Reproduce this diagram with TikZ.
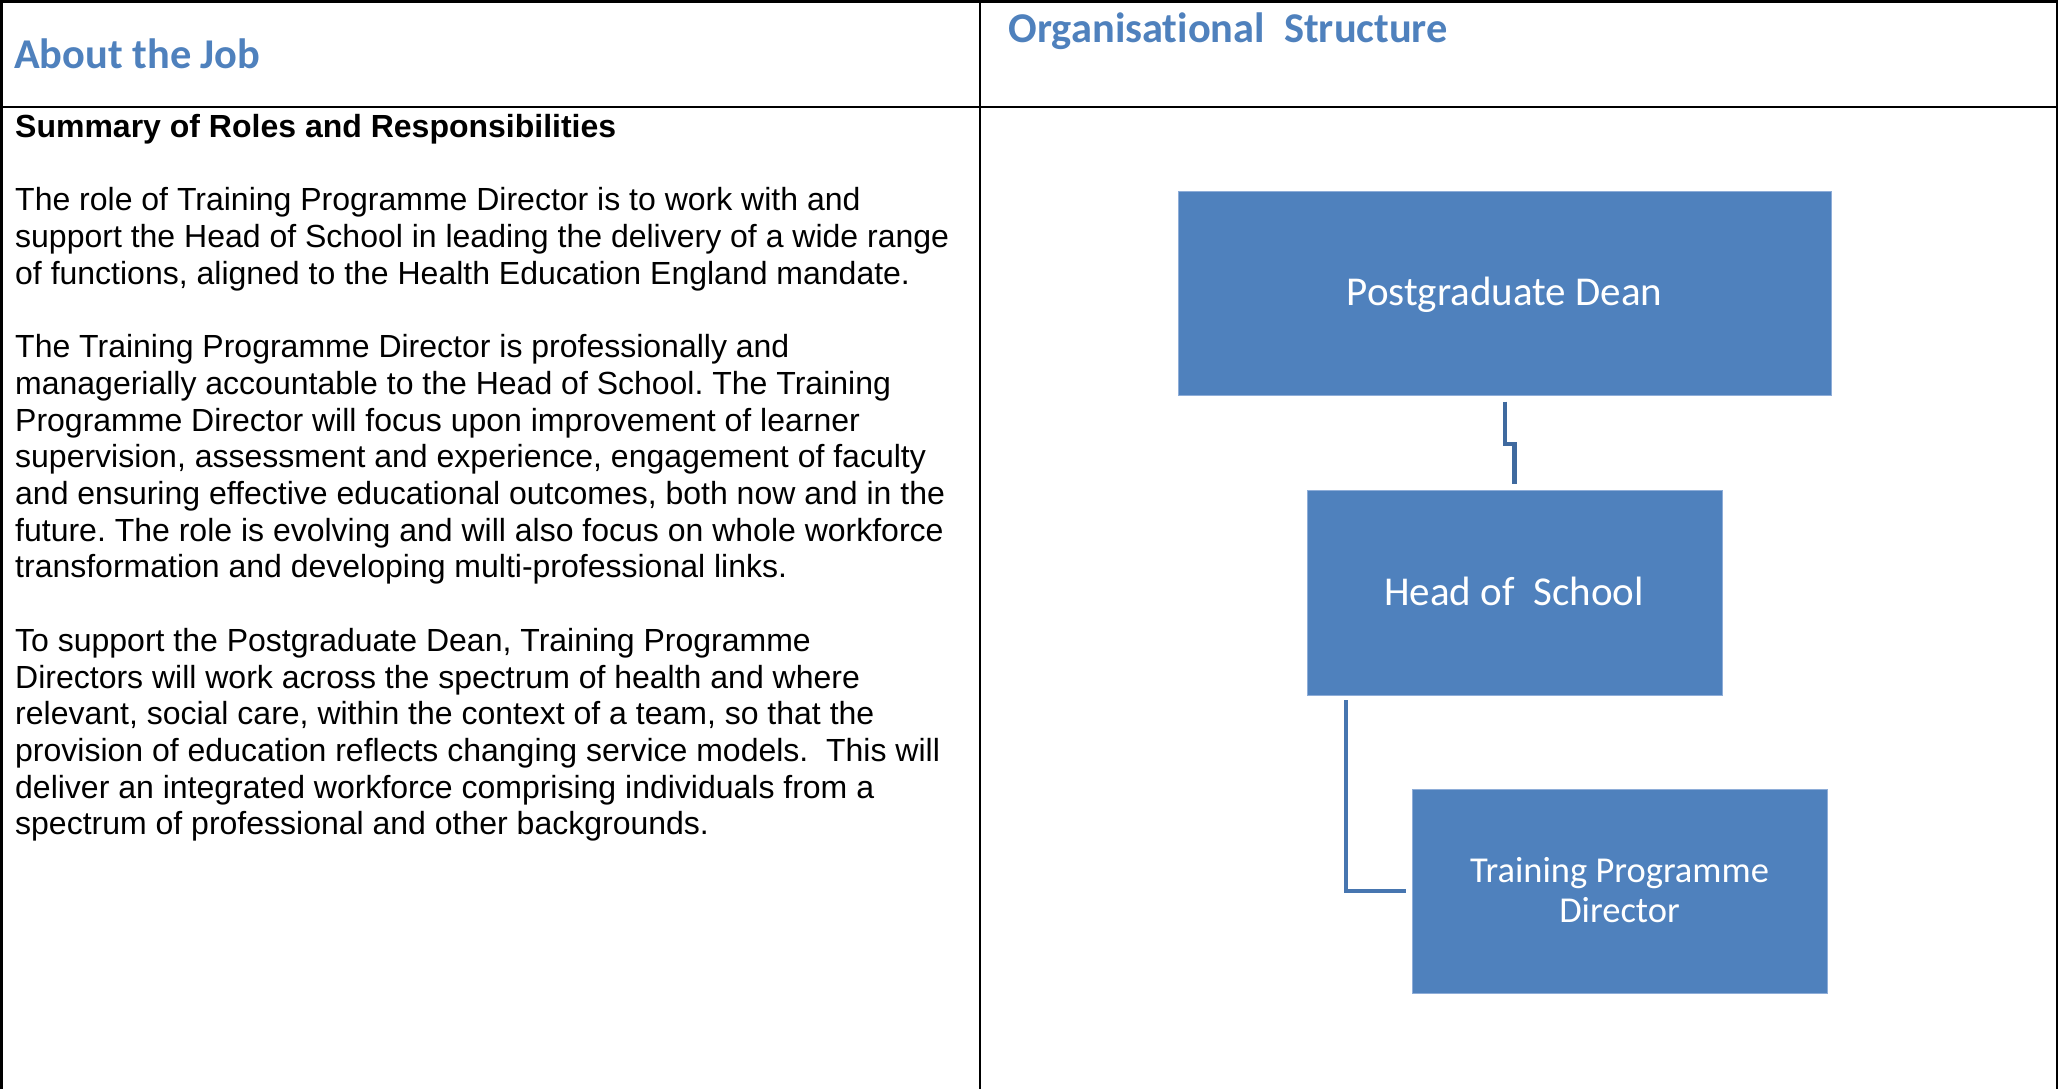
\documentclass[tikz,border=0pt]{standalone}
\usepackage{fontspec}
\setmainfont{Liberation Sans}
\newfontfamily\calfont{Carlito}[Ligatures=NoCommon]
\definecolor{hblue}{HTML}{4F81BD}
\definecolor{boxedge}{HTML}{8EADD8}
\definecolor{linkA}{HTML}{3F6A9F}
\definecolor{linkB}{HTML}{4776B0}
\frenchspacing
\begin{document}
\begin{tikzpicture}[x=1pt,y=-1pt,
  frame/.style={line width=2.6pt,black},
  heading/.style={font=\calfont\bfseries\fontsize{42.4}{50}\selectfont,text=hblue,inner sep=0pt,anchor=base west},
  orgbox/.style={fill=hblue,draw=boxedge,line width=1pt,inner sep=0pt,outer sep=0pt},
  orgtext/.style={font=\calfont\fontsize{41}{40}\selectfont,text=white,inner sep=0pt,anchor=base,align=center},
  link/.style={line width=4.5pt,line cap=butt,line join=miter}]
\useasboundingbox (0,0) rectangle (2060,1089);
\fill[white] (0,0) rectangle (2060,1089);
% table frame
\draw[frame] (1.5,1089) -- (1.5,1.5) -- (2057,1.5) -- (2057,1089);
\draw[frame] (980,1.5) -- (980,1089);
\draw[frame] (1.5,107) -- (2057,107);
% headings
\node[heading] (jobhead) at (14,69) {About the Job};
\node[heading] (orghead) at (1008.5,42.7) {Organisational~ Structure};
% body text (anchored at the baseline of its last line)
\node[anchor=base west, inner sep=0pt, align=left, font=\fontsize{32}{36.7}\selectfont\frenchspacing] (summary) at (15,834.8) {%
\textbf{Summary of Roles and Responsibilities}\\
\mbox{}\\
The role of Training Programme Director is to work with and\\
support the Head of School in leading the delivery of a wide range\\
of functions, aligned to the Health Education England mandate.\\
\mbox{}\\
The Training Programme Director is professionally and\\
managerially accountable to the Head of School. The Training\\
Programme Director will focus upon improvement of learner\\
supervision, assessment and experience, engagement of faculty\\
and ensuring effective educational outcomes, both now and in the\\
future. The role is evolving and will also focus on whole workforce\\
transformation and developing multi-professional links.\\
\mbox{}\\
To support the Postgraduate Dean, Training Programme\\
Directors will work across the spectrum of health and where\\
relevant, social care, within the context of a team, so that the\\
provision of education reflects changing service models.~ This will\\
deliver an integrated workforce comprising individuals from a\\
spectrum of professional and other backgrounds.};
% org chart
\node[orgbox, minimum width=652.5pt, minimum height=204pt] (pd) at (1504.75,293.7) {};
\node[orgtext] (pdtext) at (1504.5,305.7) {Postgraduate Dean};
\node[orgbox, minimum width=415pt, minimum height=205pt] (hos) at (1514.5,592.5) {};
\node[orgtext] (hostext) at (1514,605) {Head of~ School};
\node[orgbox, minimum width=415pt, minimum height=204pt] (tpd) at (1619.5,891) {};
\node[orgtext, font=\calfont\fontsize{36.5}{40}\selectfont] (tpdtext) at (1619.5,922) {Training Programme\\Director};
\draw[link, draw=linkA, shorten <=6pt, shorten >=6pt] (pd.south) -- ++(0,48.3) -| (hos.north);
\draw[link, draw=linkB, line width=4.2pt, shorten <=5pt, shorten >=6pt] ([xshift=39pt]hos.south west) |- (tpd.west);
\end{tikzpicture}
\end{document}
